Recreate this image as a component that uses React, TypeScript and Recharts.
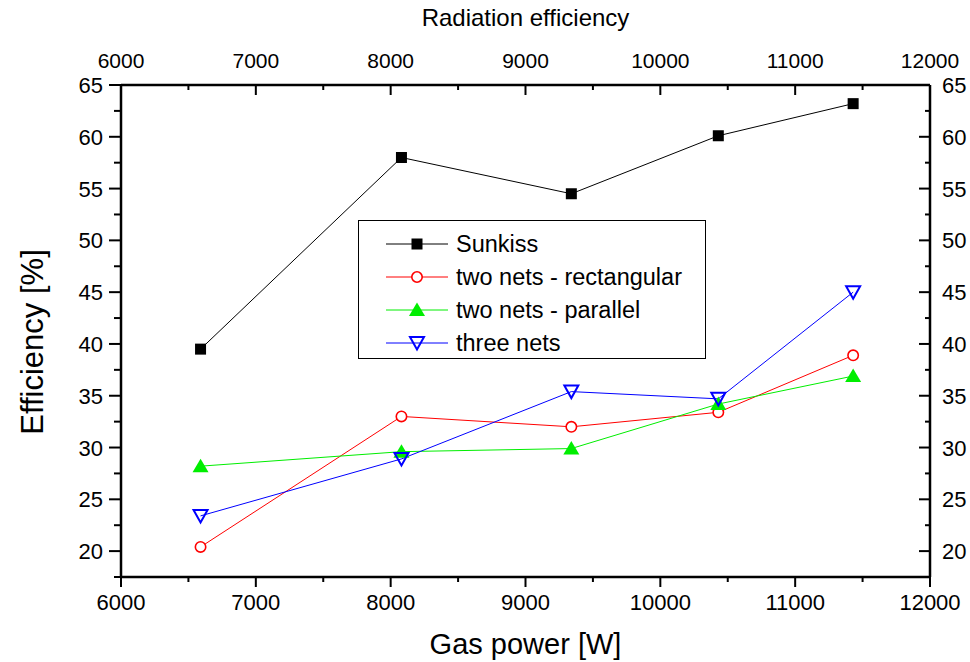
import { LineChart, Line, XAxis, YAxis, Legend } from "recharts";

// gas power on the x axis, efficiency in % for each setup
const gasPower = [6590, 8080, 9340, 10430, 11430];
const sunkiss = [39.5, 58.0, 54.5, 60.1, 63.2];
const rectangular = [20.4, 33.0, 32.0, 33.4, 38.9];
const parallel = [28.2, 29.6, 29.9, 34.2, 36.9];
const threeNets = [23.4, 28.9, 35.4, 34.7, 45.0];

const xTicks = [
  6000, 6500, 7000, 7500, 8000, 8500, 9000, 9500, 10000, 10500, 11000, 11500,
  12000,
];
const yTicks = [
  17.5, 20, 22.5, 25, 27.5, 30, 32.5, 35, 37.5, 40, 42.5, 45, 47.5, 50, 52.5,
  55, 57.5, 60, 62.5, 65,
];

const data = gasPower.map((x, i) => ({
  x,
  sunkiss: sunkiss[i],
  rectangular: rectangular[i],
  parallel: parallel[i],
  threeNets: threeNets[i],
}));

const series = [
  { key: "sunkiss", name: "Sunkiss", color: "#000000", shape: "square" },
  { key: "rectangular", name: "two nets - rectangular", color: "#ff0000", shape: "circle" },
  { key: "parallel", name: "two nets - parallel", color: "#00ee00", shape: "up" },
  { key: "threeNets", name: "three nets", color: "#0000ff", shape: "down" },
];

const FONT = "'Liberation Sans', Arial, sans-serif";

const Marker = ({ shape, color, cx, cy }) => {
  if (shape === "square") {
    return <rect x={cx - 5.5} y={cy - 5.5} width={11} height={11} fill={color} />;
  }
  if (shape === "circle") {
    return <circle cx={cx} cy={cy} r={5.2} fill="#fff" stroke={color} strokeWidth={1.6} />;
  }
  if (shape === "up") {
    return (
      <polygon
        points={`${cx},${cy - 7.5} ${cx - 8},${cy + 6} ${cx + 8},${cy + 6}`}
        fill={color}
      />
    );
  }
  return (
    <polygon
      points={`${cx - 7},${cy - 6} ${cx + 7},${cy - 6} ${cx},${cy + 6.5}`}
      fill="none"
      stroke={color}
      strokeWidth={2}
    />
  );
};

const BottomTick = ({ x, y, payload }) => {
  const major = payload.value % 1000 === 0;
  return (
    <g>
      <line x1={x} x2={x} y1={y} y2={y + (major ? 10 : 5)} stroke="#000" strokeWidth={2} />
      {major && (
        <text x={x} y={y + 33} textAnchor="middle" fontSize={22} fontFamily={FONT} fill="#000">
          {payload.value}
        </text>
      )}
    </g>
  );
};

const TopTick = ({ x, y, payload }) => {
  const major = payload.value % 1000 === 0;
  return (
    <g>
      <line x1={x} x2={x} y1={y} y2={y + (major ? 10 : 5)} stroke="#000" strokeWidth={2} />
      {major && (
        <text x={x} y={y - 17} textAnchor="middle" fontSize={21} fontFamily={FONT} fill="#000">
          {payload.value}
        </text>
      )}
    </g>
  );
};

const LeftTick = ({ x, y, payload }) => {
  const major = payload.value % 5 === 0;
  return (
    <g>
      <line x1={x - (major ? 12 : 7)} x2={x} y1={y} y2={y} stroke="#000" strokeWidth={2} />
      {major && (
        <text x={x - 18} y={y + 8} textAnchor="end" fontSize={22} fontFamily={FONT} fill="#000">
          {payload.value}
        </text>
      )}
    </g>
  );
};

const RightTick = ({ x, y, payload }) => {
  const major = payload.value % 5 === 0;
  return (
    <g>
      <line x1={x - (major ? 11 : 5)} x2={x} y1={y} y2={y} stroke="#000" strokeWidth={2} />
      {major && (
        <text x={x + 12} y={y + 8} textAnchor="start" fontSize={22} fontFamily={FONT} fill="#000">
          {payload.value}
        </text>
      )}
    </g>
  );
};

const LegendBox = () => (
  <div
    style={{
      width: 346,
      height: 137,
      border: "1.5px solid #000",
      background: "#fff",
      boxSizing: "content-box",
    }}
  >
    <svg width={346} height={137}>
      {series.map((s, i) => {
        const cy = 23 + i * 33;
        return (
          <g key={s.key}>
            <line x1={27} x2={89} y1={cy} y2={cy} stroke={s.color} strokeWidth={1} />
            <Marker shape={s.shape} color={s.color} cx={58} cy={cy} />
            <text x={97} y={cy + 8} fontSize={23.5} fontFamily={FONT} fill="#000">
              {s.name}
            </text>
          </g>
        );
      })}
    </svg>
  </div>
);

const App = () => {
  return (
    <div style={{ position: "absolute", left: 0, top: 0, width: 970, height: 662, background: "#fff" }}>
      <LineChart width={970} height={662} data={data} margin={{ top: 0, right: 0, bottom: 0, left: 0 }}>
        <XAxis
          dataKey="x"
          type="number"
          domain={[6000, 12000]}
          ticks={xTicks}
          interval={0}
          height={85}
          tickSize={0}
          tickMargin={0}
          tickLine={false}
          axisLine={{ stroke: "#000", strokeWidth: 2.5 }}
          tick={<BottomTick />}
          allowDataOverflow
          label={{
            content: ({ viewBox }) => (
              <text
                x={viewBox.x + viewBox.width / 2}
                y={viewBox.y + 77}
                textAnchor="middle"
                fontSize={29}
                fontFamily={FONT}
                fill="#000"
              >
                Gas power [W]
              </text>
            ),
          }}
        />
        <XAxis
          xAxisId="top"
          dataKey="x"
          orientation="top"
          type="number"
          domain={[6000, 12000]}
          ticks={xTicks}
          interval={0}
          height={85}
          tickSize={0}
          tickMargin={0}
          tickLine={false}
          axisLine={{ stroke: "#000", strokeWidth: 2.5 }}
          tick={<TopTick />}
          allowDataOverflow
          label={{
            content: ({ viewBox }) => (
              <text
                x={viewBox.x + viewBox.width / 2}
                y={26}
                textAnchor="middle"
                fontSize={24}
                fontFamily={FONT}
                fill="#000"
              >
                Radiation efficiency
              </text>
            ),
          }}
        />
        <YAxis
          type="number"
          domain={[17.5, 65]}
          ticks={yTicks}
          interval={0}
          width={121}
          tickSize={0}
          tickMargin={0}
          tickLine={false}
          axisLine={{ stroke: "#000", strokeWidth: 2.5 }}
          tick={<LeftTick />}
          allowDataOverflow
          label={{
            content: ({ viewBox }) => {
              const cx = 32;
              const cy = viewBox.y + viewBox.height / 2 + 11;
              return (
                <text
                  x={cx}
                  y={cy}
                  transform={`rotate(-90 ${cx} ${cy})`}
                  textAnchor="middle"
                  dominantBaseline="central"
                  fontSize={31}
                  fontFamily={FONT}
                  fill="#000"
                >
                  Efficiency [%]
                </text>
              );
            },
          }}
        />
        <YAxis
          yAxisId="right"
          orientation="right"
          type="number"
          domain={[17.5, 65]}
          ticks={yTicks}
          interval={0}
          width={40}
          tickSize={0}
          tickMargin={0}
          tickLine={false}
          axisLine={{ stroke: "#000", strokeWidth: 2.5 }}
          tick={<RightTick />}
          allowDataOverflow
        />
        <Legend
          layout="horizontal"
          verticalAlign="middle"
          align="center"
          wrapperStyle={{ left: 358, top: 220, width: 349, height: 140 }}
          content={() => <LegendBox />}
        />
        {series.map((s) => (
          <Line
            key={s.key}
            type="linear"
            dataKey={s.key}
            name={s.name}
            stroke={s.color}
            strokeWidth={1}
            isAnimationActive={false}
            dot={(p) => (
              <Marker key={`${s.key}-${p.index}`} shape={s.shape} color={s.color} cx={p.cx} cy={p.cy} />
            )}
            activeDot={false}
          />
        ))}
      </LineChart>
    </div>
  );
};

export default App;
